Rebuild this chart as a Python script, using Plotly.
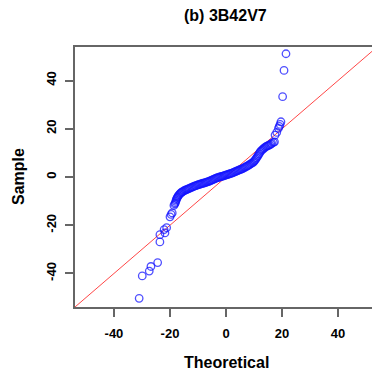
import plotly.graph_objects as go

# Lower tail points (theoretical, sample)
low_x = [-31.0, -29.9, -27.4, -26.8, -24.4, -23.6, -23.6, -21.8, -22.1, -21.2,
         -20.0, -19.6, -19.2, -18.6, -18.3]
low_y = [-50.3, -41.0, -39.0, -37.1, -35.5, -26.9, -23.9, -23.2, -21.8, -21.0,
         -16.5, -15.5, -14.9, -11.8, -11.2]

# Dense central body
mid_x = [-18.1, -17.9, -17.8, -17.6, -17.4, -17.2, -17.0, -16.7, -16.4, -16.1,
         -15.8, -15.5, -15.1, -14.7, -14.3, -13.9, -13.5, -13.1, -12.7, -12.3,
         -11.9, -11.5, -11.1, -10.7, -10.3, -9.9, -9.5, -9.1, -8.7, -8.3,
         -7.9, -7.5, -7.1, -6.7, -6.3, -5.9, -5.5, -5.1, -4.7, -4.3,
         -3.9, -3.5, -3.1, -2.7, -2.3, -1.9, -1.5, -1.1, -0.7, -0.3,
         0.1, 0.5, 0.9, 1.3, 1.7, 2.1, 2.5, 2.9, 3.3, 3.7,
         4.1, 4.5, 4.9, 5.3, 5.7, 6.1, 6.5, 6.9, 7.3, 7.7,
         8.1, 8.5, 8.9, 9.3, 9.7, 10.0, 10.3, 10.6, 10.9, 11.2,
         11.5, 11.8, 12.1, 12.4, 12.8, 13.2, 13.6, 14.0, 14.4, 14.8,
         15.2, 15.6, 16.0, 16.3]
mid_y = [-10.7, -10.1, -9.5, -9.0, -8.5, -8.1, -7.7, -7.3, -6.9, -6.6,
         -6.3, -6.1, -5.8, -5.5, -5.3, -5.1, -4.9, -4.7, -4.5, -4.3,
         -4.1, -3.9, -3.7, -3.6, -3.4, -3.2, -3.1, -2.9, -2.8, -2.6,
         -2.5, -2.3, -2.2, -2.0, -1.9, -1.7, -1.5, -1.3, -1.1, -0.9,
         -0.7, -0.5, -0.3, -0.2, 0.0, 0.1, 0.3, 0.4, 0.6, 0.7,
         0.9, 1.0, 1.2, 1.3, 1.5, 1.6, 1.8, 2.0, 2.2, 2.4,
         2.6, 2.8, 3.0, 3.2, 3.4, 3.6, 3.9, 4.1, 4.4, 4.6,
         4.9, 5.2, 5.5, 5.8, 6.1, 6.5, 6.9, 7.4, 7.9, 8.5,
         9.0, 9.6, 10.2, 10.7, 11.2, 11.6, 12.0, 12.4, 12.7, 12.9,
         13.1, 13.3, 13.6, 13.9]

# Upper tail points
high_x = [16.9, 17.3, 17.5, 18.1, 18.7, 19.0, 19.3, 19.6, 20.2, 20.7, 21.4]
high_y = [14.3, 14.6, 17.4, 18.5, 20.2, 21.0, 21.8, 22.9, 33.3, 44.2, 51.1]

ticks = [-40, -20, 0, 20, 40]
x_range = [-53.9, 52.1]
y_range = [-53.9, 53.9]
ref_line = [-60, 60]

xs = low_x + mid_x + high_x
ys = low_y + mid_y + high_y

FONT = "Liberation Sans, Arial, Helvetica, sans-serif"

fig = go.Figure()
fig.add_trace(go.Scatter(
    x=ref_line, y=ref_line, mode="lines",
    line=dict(color="rgba(255,50,50,0.9)", width=1), hoverinfo="skip"))
fig.add_trace(go.Scatter(
    x=xs, y=ys, mode="markers",
    marker=dict(symbol="circle-open", size=7.5,
                color="rgba(20,20,255,0.75)", line=dict(width=1.3))))

fig.update_layout(
    width=372, height=377,
    margin=dict(l=75, r=0, t=47, b=70),
    plot_bgcolor="white", paper_bgcolor="white",
    showlegend=False,
    font=dict(family=FONT, color="black"),
    annotations=[
        dict(text="<b>(b) 3B42V7</b>", xref="paper", yref="paper",
             x=(225 - 75) / 297, y=1 + 32 / 260, xanchor="center", yanchor="middle",
             showarrow=False, font=dict(size=16, family=FONT)),
        dict(text="<b>Theoretical</b>", xref="paper", yref="paper",
             x=(226 - 75) / 297, y=-(362 - 307) / 260, xanchor="center", yanchor="middle",
             showarrow=False, font=dict(size=16, family=FONT)),
        dict(text="<b>Sample</b>", xref="paper", yref="paper",
             x=-(75 - 18) / 297, y=(307 - 177) / 260, xanchor="center", yanchor="middle",
             textangle=-90, showarrow=False, font=dict(size=16, family=FONT)),
    ],
)
fig.update_xaxes(
    range=x_range, tickvals=ticks, ticktext=[f"<b>{t}</b>" for t in ticks],
    showgrid=False, zeroline=False, showline=True, mirror=True,
    linecolor="#666666", linewidth=1.5, ticks="outside", ticklen=8,
    tickcolor="#666666", tickwidth=1.5, ticklabelstandoff=6,
    tickfont=dict(size=13, family=FONT, color="black"))
fig.update_yaxes(
    range=y_range, tickvals=ticks, ticktext=[f"<b>{t}</b>" for t in ticks],
    showgrid=False, zeroline=False, showline=True, mirror=False,
    linecolor="#666666", linewidth=1.5, ticks="outside", ticklen=8,
    tickcolor="#666666", tickwidth=1.5, tickangle=-90, ticklabelstandoff=4,
    tickfont=dict(size=13, family=FONT, color="black"))

fig.write_html("out.html")
